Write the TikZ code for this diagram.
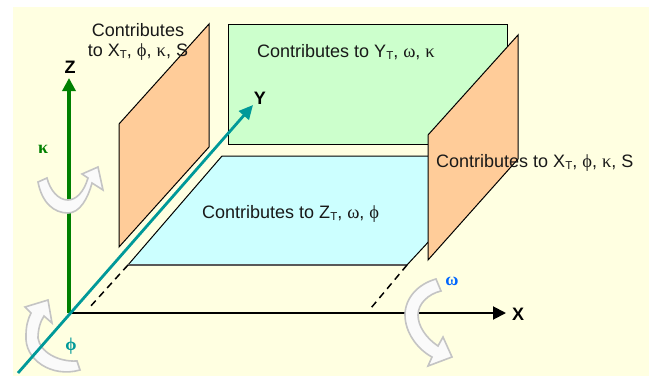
\documentclass[tikz,border=0pt]{standalone}
\usepackage{fontspec}
\setmainfont{Liberation Sans}
\newfontfamily\grk{Liberation Serif}
\usetikzlibrary{arrows.meta}
\definecolor{bgc}{HTML}{FFFFE1}
\definecolor{orangep}{HTML}{FFCC99}
\definecolor{greenp}{HTML}{CCFFCC}
\definecolor{cyanp}{HTML}{CCFFFF}
\definecolor{zgreen}{HTML}{008000}
\definecolor{yteal}{HTML}{009999}
\definecolor{wblue}{HTML}{0066FF}
\definecolor{rotgrey}{HTML}{C4C4C4}
\definecolor{rotfill}{HTML}{FAFAFA}
\tikzset{
  x=1pt,y=-1pt,
  panel/.style={draw=black,line width=1pt,line join=miter},
  lbl/.style={font=\fontsize{18}{20}\selectfont,inner sep=0pt,text=black!90},
  axlbl/.style={font=\fontsize{18}{20}\selectfont\bfseries,inner sep=0pt},
  rot/.style={draw=rotgrey,fill=rotfill,line width=1.6pt,line join=miter},
  glabel/.style={inner sep=0pt,font=\fontsize{18}{20}\selectfont\bfseries\grk},
  dash axis/.style={black,line width=1.5pt,dash pattern=on 7pt off 5pt},
}
\newcommand{\Sub}[1]{\raisebox{-2pt}{\fontsize{11.5}{12}\selectfont #1}}
\newcommand{\G}[1]{{\grk\fontsize{18.5}{20}\selectfont #1}}
\begin{document}
\begin{tikzpicture}
\useasboundingbox (0,0) rectangle (649,376);
\fill[bgc] (13,7) rectangle (649,376);
% panels
\draw[panel,fill=greenp] (228,24) rectangle (507,144);
\draw[panel,fill=cyanp] (222,156) -- (508,156) -- (407,265) -- (128,265) -- cycle;
\draw[panel,fill=orangep] (119,124) -- (209,24) -- (209,147) -- (119,247) -- cycle;
\draw[panel,fill=orangep] (428,135) -- (518,35) -- (518,159) -- (428,260) -- cycle;
\draw[line width=1.6pt,black!65] (128,265) -- (407,265);
% coordinates
\coordinate (O) at (69,313);
\coordinate (Ztip) at (69,78);
\coordinate (Xtip) at (506,313);
\coordinate (Ytail) at (18,373);
\coordinate (Ytip) at (253,105);
\coordinate (dA1) at (128,265);
\coordinate (dA2) at (89,308);
\coordinate (dB1) at (407,265);
\coordinate (dB2) at (371,308);
% dashed
\draw[dash axis] (dA1) -- (dA2);
\draw[dash axis] (dB1) -- (dB2);
% axes
\draw[zgreen,line width=3.4pt,-{Triangle[length=13pt,width=13pt]}] (O) -- (Ztip);
\draw[black,line width=2pt,-{Triangle[length=13pt,width=13pt]}] (O) -- (Xtip);
% rotation arrows
\draw[rot] (38,182) .. controls (42,203) and (54,213) .. (68,213)
  .. controls (80,213) and (88,198) .. (92,183) -- (103,190) -- (98,167) -- (82,174) -- (88,178)
  .. controls (84,192) and (76,200) .. (68,200)
  .. controls (58,200) and (50,190) .. (47,178) -- cycle;
\draw[rot] (80,370) .. controls (52,378) and (24,360) .. (26,335)
  .. controls (26,326) and (28,319) .. (31,313) -- (25,307) -- (48,300) -- (52,323) -- (44,316)
  .. controls (40,322) and (38,330) .. (38,338)
  .. controls (40,352) and (58,362) .. (77,361) -- cycle;
\draw[rot] (436,279) .. controls (418,284) and (405,298) .. (405,315)
  .. controls (405,332) and (417,349) .. (432,357) -- (428,366) -- (452,357) -- (443,337) -- (438,346)
  .. controls (426,338) and (418,326) .. (418,315)
  .. controls (418,304) and (428,294) .. (441,291) -- cycle;
% Y axis
\draw[yteal,line width=2.8pt,-{Triangle[length=14pt,width=13pt]}] (Ytail) -- (Ytip);
% labels
\node[axlbl] (zl) at (70,67) {Z};
\node[axlbl] (xl) at (518,314) {X};
\node[axlbl] (yl) at (260,98) {Y};
\node[glabel,text=zgreen] (kl) at (43,149) {κ};
\node[glabel,text=yteal] (pl) at (71,346) {ϕ};
\node[glabel,text=wblue] (wl) at (452,281) {ω};
\node[lbl] (t1) at (138,30) {Contributes};
\node[lbl] (t2) at (138,52) {to X\Sub{T}, \G{ϕ}, \G{κ}, S};
\node[lbl,anchor=west] (t3) at (257,52) {Contributes to Y\Sub{T}, \G{ω}, \G{κ}};
\node[lbl,anchor=west] (t4) at (202,214) {Contributes to Z\Sub{T}, \G{ω}, \G{ϕ}};
\node[lbl,anchor=west] (t5) at (436,163) {Contributes to X\Sub{T}, \G{ϕ}, \G{κ}, S};
\end{tikzpicture}
\end{document}
